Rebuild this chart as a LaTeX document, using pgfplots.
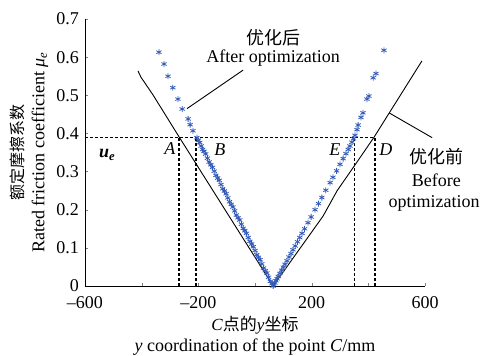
\documentclass[border=0pt]{standalone}
\usepackage{pgfplots}
\pgfplotsset{compat=1.18}
\usepackage{fontspec}
\setmainfont{Liberation Serif}
\newfontfamily\cjk{Noto Sans CJK SC}
\definecolor{starblue}{RGB}{50,90,185}
\begin{document}
\fontsize{18}{21}\selectfont
\begin{tikzpicture}
\begin{axis}[
  name=ax,
  width=340pt, height=267pt, scale only axis,
  xmin=-600, xmax=600, ymin=0, ymax=0.7,
  axis x line*=bottom, axis y line*=left,
  axis line style={line width=0.8pt},
  tick align=inside, major tick length=3pt,
  xtick={-600,-400,-200,0,200,400,600},
  xticklabels={–600,,–200,,200,,600},
  ytick={0,0.1,0.2,0.3,0.4,0.5,0.6,0.7},
  yticklabels={0,0.1,0.2,0.3,0.4,0.5,0.6,0.7},
  tick label style={font=\fontsize{18}{21}\selectfont},
  xticklabel style={yshift=-4.5pt},
  xlabel={{\fontsize{17}{20}\selectfont\textit{C}\cjk 点的\rmfamily\textit{y}\cjk 坐标}\\\textit{y} coordination of the point \textit{C}/mm},
  xlabel style={align=center, font=\fontsize{18}{21}\selectfont, yshift=4.5pt},
  ylabel={{\fontsize{16}{19}\selectfont\cjk 额定摩擦系数}\\Rated friction coefficient \textit{μ}\textsubscript{\textit{e}}},
  ylabel style={align=center, font=\fontsize{18}{21}\selectfont},
  ylabel shift=-4pt,
  clip=false,
]
% before optimization
\addplot[black, line width=0.9pt] coordinates {
(-413,0.564) (-403,0.548) (-360,0.501) (-268,0.391) (64,0)
(240,0.183) (290,0.250) (360,0.325) (420,0.39) (589,0.59)};
% after optimization
\addplot[only marks, mark=asterisk, mark size=3pt, starblue, mark options={line width=0.8pt}] coordinates {
(-339,0.613) (-321,0.582) (-307,0.550) (-290,0.520) (-272,0.490) (-257,0.464)
(-236,0.438) (-229,0.423) (-219,0.407) (-205,0.389)
(-200,0.382) (-195,0.376) (-190,0.367) (-185,0.358) (-180,0.353) (-174,0.346)
(-168,0.335) (-162,0.325) (-156,0.318) (-150,0.311) (-144,0.301) (-138,0.290)
(-132,0.283) (-126,0.277) (-120,0.266) (-114,0.255) (-108,0.249) (-102,0.242)
(-96,0.231) (-90,0.221) (-84,0.214) (-78,0.207) (-72,0.197) (-66,0.186)
(-60,0.179) (-54,0.173) (-48,0.162) (-42,0.151) (-36,0.145) (-30,0.138)
(-24,0.127) (-18,0.117) (-12,0.110) (-6,0.103) (0,0.093) (6,0.082)
(12,0.075) (18,0.069) (24,0.058) (30,0.047) (36,0.040) (42,0.034)
(48,0.023) (54,0.012) (60,0.006) (64,0.000)
(66,0.003) (70,0.008) (74,0.014) (78,0.019) (82,0.025) (88,0.033)
(94,0.041) (100,0.049) (106,0.057) (113,0.066) (120,0.076) (127,0.085)
(134,0.095) (142,0.105) (150,0.116) (158,0.127) (166,0.138) (175,0.150)
(187,0.166) (198,0.181) (212,0.200) (224,0.216) (236,0.232) (250,0.251)
(265,0.271) (275,0.285) (288,0.302) (300,0.319) (311,0.334) (321,0.347)
(329,0.358) (335,0.367) (342,0.377) (348,0.386) (353,0.395) (360,0.410)
(364,0.422) (374,0.442) (381,0.454) (395,0.490) (402,0.498) (417,0.546)
(427,0.557) (455,0.618)};
% dashed guide lines
\addplot[black, line width=1.3pt, dash pattern=on 3pt off 2pt] coordinates {(-600,0.39) (423,0.39)};
\addplot[black, line width=1.3pt, dash pattern=on 3pt off 2pt] coordinates {(-268,0) (-268,0.39)};
\addplot[black, line width=1.3pt, dash pattern=on 3pt off 2pt] coordinates {(-208,0) (-208,0.39)};
\addplot[black, line width=1.3pt, dash pattern=on 3pt off 2pt] coordinates {(350,0) (350,0.39)};
\addplot[black, line width=1.3pt, dash pattern=on 3pt off 2pt] coordinates {(423,0) (423,0.39)};
% pointers
\addplot[black, line width=0.9pt] coordinates {(-240,0.465) (-42,0.566)};
\addplot[black, line width=0.9pt] coordinates {(473,0.454) (625,0.389)};
% labels
\node at (axis cs:64,0.652) {\cjk 优化后};
\node at (axis cs:64,0.597) {After optimization};
\node at (axis cs:640,0.339) {\cjk 优化前};
\node at (axis cs:640,0.277) {Before};
\node at (axis cs:632,0.217) {optimization};
\node at (axis cs:-522,0.344) {\textit{\textbf{u}}\textsubscript{\textit{\textbf{e}}}};
\node at (axis cs:-300,0.360) {\textit{A}};
\node at (axis cs:-124,0.357) {\textit{B}};
\node at (axis cs:282,0.357) {\textit{E}};
\node at (axis cs:462,0.357) {\textit{D}};
\end{axis}
\pgfresetboundingbox
\path[use as bounding box] ([xshift=-85pt,yshift=-70pt]ax.south west) rectangle ([xshift=56pt,yshift=19pt]ax.north east);
\end{tikzpicture}
\end{document}
